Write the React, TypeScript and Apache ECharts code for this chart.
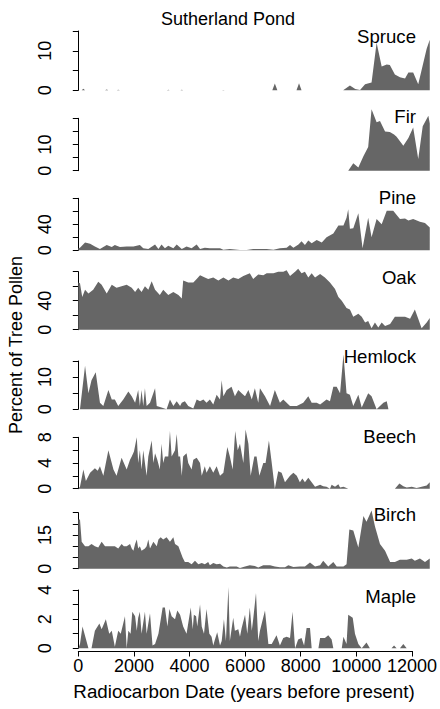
import React, { useEffect, useRef } from 'react';
import * as echarts from 'echarts';

// [radiocarbon years BP, percent of tree pollen]
const spruce: number[][] = [
  [0, 0], [120, 0], [180, 0.4], [240, 0], [950, 0], [1010, 0.2], [1070, 0], [1370, 0], [1420, 0.15], [1480, 0],
  [3150, 0], [3200, 0.15], [3250, 0], [3630, 0], [3680, 0.15], [3730, 0], [5110, 0], [5160, 0.1], [5210, 0],
  [6900, 0], [6990, 1.7], [7080, 0], [7760, 0], [7850, 1.8], [7940, 0], [9420, 0], [9660, 1.2], [9850, 0.3],
  [10020, 0.1], [10200, 1.5], [10430, 2], [10610, 12], [10790, 6], [10970, 6.5], [11080, 6.4], [11260, 4],
  [11440, 3.3], [11620, 3], [11740, 4.5], [11910, 4.5], [12090, 1.5], [12390, 10.5], [12500, 12.8],
];

const fir: number[][] = [
  [0, 0], [9600, 0], [9780, 2.8], [9960, 1.2], [10140, 5.5], [10310, 9], [10430, 23.5], [10610, 18.5],
  [10730, 19], [10910, 15], [11080, 14.8], [11230, 13.8], [11320, 13], [11560, 9.5], [11740, 12.5],
  [11910, 16.5], [12090, 4.5], [12250, 17], [12450, 21], [12500, 18],
];

const pine: number[][] = [
  [0, 3], [60, 4], [240, 12], [420, 10], [590, 6], [770, 2], [1010, 8], [1190, 5], [1300, 8], [1480, 5],
  [1720, 6], [1960, 6], [2190, 8], [2310, 3], [2490, 2], [2730, 9], [2850, 2], [2960, 9], [3080, 3],
  [3200, 7], [3380, 3], [3500, 9], [3680, 2], [3850, 6], [4030, 3], [4210, 9], [4330, 2], [4500, 4],
  [4680, 3], [5040, 3], [5160, 1], [5390, 2], [5750, 0.5], [5990, 0.3], [6220, 2], [6700, 2], [6940, 1],
  [7170, 3], [7410, 4], [7530, 8], [7650, 4], [7830, 9], [7940, 14], [8060, 8], [8180, 15], [8300, 11],
  [8480, 16], [8660, 12], [8830, 20], [9070, 26], [9250, 38], [9430, 38], [9540, 50], [9600, 63],
  [9660, 33], [9780, 34], [9960, 57], [10110, 3], [10310, 50], [10430, 20], [10610, 48], [10790, 40],
  [10970, 61], [11200, 61], [11440, 48], [11620, 49], [11740, 46], [11910, 48], [12150, 44], [12330, 42],
  [12500, 35],
];

const oak: number[][] = [
  [0, 65], [60, 64], [140, 45], [240, 55], [360, 50], [530, 55], [710, 66], [830, 62], [1010, 50],
  [1190, 62], [1360, 58], [1540, 60], [1720, 62], [1900, 58], [2020, 52], [2130, 58], [2250, 52],
  [2370, 60], [2490, 55], [2610, 67], [2730, 55], [2900, 48], [3020, 55], [3200, 48], [3380, 52],
  [3560, 48], [3680, 43], [3730, 68], [3910, 65], [4090, 65], [4210, 70], [4330, 75], [4500, 72],
  [4620, 70], [4800, 72], [4980, 68], [5160, 72], [5340, 68], [5510, 72], [5690, 70], [5870, 74],
  [6100, 78], [6220, 70], [6400, 76], [6580, 75], [6700, 78], [6940, 78], [7110, 80], [7290, 80],
  [7410, 82], [7530, 74], [7710, 80], [7820, 84], [7940, 78], [8060, 80], [8180, 72], [8300, 78],
  [8420, 72], [8600, 77], [8770, 72], [8950, 65], [9130, 56], [9250, 45], [9370, 40], [9540, 30],
  [9660, 28], [9780, 18], [9960, 22], [10080, 18], [10200, 10], [10310, 12], [10430, 2], [10550, 10],
  [10670, 3], [10790, 10], [10910, 5], [11090, 8], [11260, 18], [11440, 18], [11620, 18], [11800, 15],
  [11970, 28], [12090, 15], [12210, 2], [12390, 10], [12500, 16],
];

const hemlock: number[][] = [
  [0, 0], [60, 0], [240, 13.5], [360, 5], [470, 9], [620, 11.5], [770, 2], [890, 1], [1070, 6],
  [1190, 3], [1300, 3], [1420, 1], [1600, 3], [1780, 5.5], [1900, 4], [2020, 2], [2130, 6], [2190, 1],
  [2250, 6], [2310, 1], [2370, 6.5], [2430, 1], [2550, 2], [2730, 6.5], [2790, 1], [2960, 0.5],
  [3140, 0], [3260, 3], [3380, 1], [3500, 2.5], [3620, 1], [3680, 2], [3790, 2.5], [3910, 1],
  [4090, 0.2], [4210, 3], [4330, 2.5], [4450, 3], [4560, 2], [4680, 3], [4800, 1.5], [4920, 4.5],
  [5040, 3], [5100, 9], [5160, 4], [5280, 6], [5450, 7], [5570, 4], [5690, 6], [5810, 5], [5930, 4],
  [6050, 6], [6170, 3], [6280, 6.5], [6400, 2], [6460, 6.5], [6640, 4], [6820, 1], [6990, 6],
  [7170, 2], [7290, 3], [7530, 1], [7770, 1], [8000, 2], [8180, 4], [8300, 2], [8480, 2], [8600, 1.5],
  [8830, 3], [8950, 2.5], [9070, 7], [9190, 7], [9310, 5], [9430, 17], [9540, 5], [9660, 4.5],
  [9780, 1], [9960, 4.5], [10080, 0.5], [10310, 5], [10430, 4], [10610, 0], [10850, 2], [10970, 2.5],
  [11030, 0], [12500, 0],
];

const beech: number[][] = [
  [0, 0], [60, 0.3], [180, 3], [270, 1.2], [420, 2.5], [590, 3.2], [690, 2.8], [770, 3.5], [890, 2],
  [1070, 6], [1250, 3], [1360, 2], [1540, 4.8], [1720, 3], [1840, 4.5], [1900, 5], [1980, 5.8],
  [2080, 8], [2130, 4], [2190, 6], [2250, 3], [2310, 6], [2430, 2], [2490, 5], [2610, 7.5], [2670, 4],
  [2730, 5.5], [2810, 4.5], [2900, 3], [2960, 7], [3020, 4], [3080, 5], [3200, 5], [3260, 9], [3320, 5],
  [3440, 6], [3500, 8.5], [3560, 5], [3620, 5], [3680, 2], [3730, 5], [3850, 5.5], [3910, 4],
  [4030, 3], [4090, 4.5], [4210, 4.8], [4330, 4], [4390, 2], [4500, 3.5], [4560, 2.5], [4680, 3.5],
  [4800, 2.5], [4920, 3.5], [5040, 2], [5160, 2.5], [5300, 6.5], [5390, 5], [5490, 3], [5580, 9],
  [5670, 6], [5750, 7], [5870, 4], [5950, 9.2], [6050, 7], [6130, 2], [6260, 5], [6340, 5], [6440, 2],
  [6580, 4], [6660, 4], [6780, 7.5], [6880, 4], [6990, 0], [7110, 2.7], [7230, 2.5], [7350, 1],
  [7530, 2], [7650, 2.5], [7770, 2], [7880, 1], [7970, 1.6], [8060, 1], [8180, 1.7], [8300, 1],
  [8420, 0.3], [8600, 0.6], [8710, 0.4], [8830, 0.3], [8950, 0], [9010, 0.6], [9130, 0.3], [9250, 0.7],
  [9310, 0.2], [9430, 0.3], [9540, 0.1], [9600, 0], [11260, 0], [11420, 0.8], [11560, 0.4],
  [11680, 0.2], [11860, 0.3], [12030, 0.1], [12390, 0.5], [12500, 1],
];

const birch: number[][] = [
  [0, 22], [60, 22], [120, 12], [240, 10], [360, 10], [470, 11], [590, 10], [710, 9.5], [830, 12],
  [950, 10], [1130, 10], [1300, 10], [1420, 9], [1540, 11], [1620, 10], [1720, 10], [1840, 11],
  [1900, 9], [1960, 8], [2020, 11], [2080, 13], [2130, 9], [2190, 10], [2250, 8], [2370, 9], [2430, 10],
  [2490, 13], [2550, 9], [2670, 12], [2790, 10], [2850, 13], [2930, 14], [3020, 13], [3140, 14],
  [3260, 12], [3380, 14], [3440, 11], [3560, 10], [3710, 5], [3790, 3], [3910, 3], [4030, 2],
  [4150, 3.5], [4270, 2], [4390, 2.5], [4500, 2], [4620, 3], [4680, 1.5], [4800, 2.5], [4920, 2],
  [5040, 2.2], [5160, 1], [5280, 0.5], [5390, 1], [5510, 1], [5630, 1], [5750, 0.3], [5930, 1],
  [6100, 1.5], [6280, 1.2], [6400, 0.5], [6580, 1.5], [6820, 1.5], [6990, 1], [7170, 0.6], [7350, 0.6],
  [7470, 1.5], [7650, 0.8], [7880, 1], [8060, 1], [8240, 2.8], [8420, 1], [8600, 1.5], [8710, 3.5],
  [8890, 1], [9070, 3], [9190, 1], [9430, 1], [9540, 2], [9640, 17.5], [9780, 17], [9960, 9.5],
  [10140, 23.5], [10250, 21], [10430, 26], [10550, 19], [10730, 11], [10910, 8], [11090, 3],
  [11260, 3], [11440, 4], [11680, 4], [11860, 4.5], [11970, 3.5], [12150, 4.5], [12330, 3], [12500, 4.5],
];

const maple: number[][] = [
  [0, 0], [60, 0.3], [150, 1.5], [360, 0], [470, 0], [590, 1.2], [750, 1.7], [830, 1.3], [980, 2],
  [1100, 1], [1190, 1.2], [1300, 0.1], [1420, 1.2], [1510, 1], [1660, 2.2], [1720, 0], [1780, 1.2],
  [1860, 1], [1920, 2.5], [2020, 2.2], [2080, 1.2], [2130, 2.1], [2190, 2.5], [2250, 1], [2370, 2.5],
  [2430, 1], [2550, 2.4], [2640, 0.2], [2730, 0.3], [2850, 1], [3000, 2.8], [3080, 2.8], [3170, 1.5],
  [3240, 2.7], [3320, 2.2], [3440, 2], [3520, 2.6], [3620, 2.3], [3730, 1.5], [3850, 1], [4000, 2.8],
  [4070, 1.3], [4110, 2.3], [4190, 2.2], [4230, 1.5], [4330, 3], [4390, 1.5], [4470, 1], [4560, 2.7],
  [4660, 1], [4740, 0.8], [4800, 0.2], [4860, 0.6], [4940, 1.1], [5040, 0.2], [5100, 0.5], [5180, 2],
  [5250, 0.5], [5340, 4.2], [5390, 0.5], [5510, 2.1], [5570, 1.2], [5690, 1.3], [5750, 0.8], [5810, 1.4],
  [5930, 2.3], [6010, 1], [6100, 2.8], [6170, 1.2], [6220, 2], [6320, 3.8], [6400, 0.5], [6460, 1.2],
  [6640, 2.6], [6760, 0.3], [6880, 0.3], [7050, 0.9], [7170, 0.2], [7290, 0.7], [7410, 0.8], [7530, 0.7],
  [7620, 2.5], [7710, 0], [7820, 0.6], [7940, 0.7], [8030, 0.2], [8120, 1.4], [8240, 1.4], [8300, 0],
  [8540, 0], [8600, 0.7], [8770, 0.7], [8890, 0.9], [9010, 0.6], [9070, 0], [9370, 0], [9430, 0.8],
  [9540, 0.3], [9600, 2.3], [9760, 2.1], [9840, 1], [9960, 0.3], [10080, 0], [10250, 0.4], [10370, 0],
  [11140, 0], [11230, 0.2], [11320, 0], [11440, 0], [11560, 0.3], [11680, 0], [12500, 0],
];

const panelNames = ['Spruce', 'Fir', 'Pine', 'Oak', 'Hemlock', 'Beech', 'Birch', 'Maple'];
const panelSeries = [spruce, fir, pine, oak, hemlock, beech, birch, maple];
const yAxisMax = [15, 20, 80, 80, 15, 8, 25, 4];
const yAxisStep = [5, 5, 20, 20, 5, 2, 5, 1];
const yTickLabels = [[0, 10], [0, 10], [0, 40], [0, 40], [0, 10], [0, 4, 8], [0, 15], [0, 2, 4]];
const xTickLabels = [0, 2000, 4000, 6000, 8000, 10000, 12000];

const chartTitle = 'Sutherland Pond';
const xTitle = 'Radiocarbon Date (years before present)';
const yTitle = 'Percent of Tree Pollen';

// layout (pixels)
const panelTop = [31, 118.3, 198.3, 271.7, 361, 437.3, 512.7, 590];
const panelZero = [90.3, 170.7, 250.3, 329.7, 409.2, 488.7, 568.7, 648.3];
const panelLabelY = [36.5, 116, 197.5, 277, 356, 436, 514, 596];
const PLOT_LEFT = 78.3;
const PX_PER_YEAR = 337.4 / 12000;
const FONT = 'Liberation Sans, Arial, sans-serif';

export default function App() {
  const ref = useRef<HTMLDivElement>(null);

  useEffect(() => {
    if (!ref.current) return;
    const chart = echarts.init(ref.current, undefined, { renderer: 'svg' });

    const grids: any[] = [];
    const xAxes: any[] = [];
    const yAxes: any[] = [];
    const series: any[] = [];
    const graphics: any[] = [];

    panelNames.forEach((name, i) => {
      grids.push({
        left: PLOT_LEFT,
        width: 12500 * PX_PER_YEAR,
        top: panelTop[i],
        height: panelZero[i] - panelTop[i],
        containLabel: false,
      });
      xAxes.push({ type: 'value', gridIndex: i, min: 0, max: 12500, show: false });
      const shown = yTickLabels[i];
      yAxes.push({
        type: 'value',
        gridIndex: i,
        min: 0,
        max: yAxisMax[i],
        interval: yAxisStep[i],
        offset: 14,
        axisLine: { show: true, lineStyle: { color: '#000', width: 1 } },
        axisTick: { show: true, length: 5.5, lineStyle: { color: '#000', width: 1 } },
        splitLine: { show: false },
        axisLabel: {
          rotate: 90,
          margin: 10,
          color: '#000',
          fontSize: 18,
          fontFamily: FONT,
          formatter: (v: number) => (shown.indexOf(v) >= 0 ? String(v) : ''),
        },
      });
      series.push({
        type: 'line',
        name,
        xAxisIndex: i,
        yAxisIndex: i,
        data: panelSeries[i],
        showSymbol: false,
        symbol: 'none',
        clip: false,
        silent: true,
        lineStyle: { width: 0, color: '#666666' },
        areaStyle: { color: '#666666', opacity: 1 },
      });
      graphics.push({
        type: 'text',
        x: 416,
        y: panelLabelY[i],
        style: { text: name, fill: '#000', font: `18.6px ${FONT}`, align: 'right', verticalAlign: 'middle' },
      });
    });

    // bottom date axis (0..12000)
    grids.push({ left: PLOT_LEFT, width: 12000 * PX_PER_YEAR, top: 650, height: 1 });
    xAxes.push({
      type: 'value',
      gridIndex: 8,
      min: 0,
      max: 12000,
      interval: 2000,
      axisLine: { show: true, lineStyle: { color: '#000', width: 1 } },
      axisTick: { show: true, length: 5.5, lineStyle: { color: '#000', width: 1 } },
      splitLine: { show: false },
      axisLabel: {
        margin: 6,
        color: '#000',
        fontSize: 18,
        fontFamily: FONT,
        formatter: (v: number) => (xTickLabels.indexOf(v) >= 0 ? String(v) : ''),
      },
    });
    yAxes.push({ type: 'value', gridIndex: 8, min: 0, max: 1, show: false });

    graphics.push({
      type: 'text',
      x: 228,
      y: 19,
      style: { text: chartTitle, fill: '#000', font: `18px ${FONT}`, align: 'center', verticalAlign: 'middle' },
    });
    graphics.push({
      type: 'text',
      x: 244,
      y: 691,
      style: { text: xTitle, fill: '#000', font: `18.8px ${FONT}`, align: 'center', verticalAlign: 'middle' },
    });
    graphics.push({
      type: 'text',
      x: 16,
      y: 345,
      rotation: Math.PI / 2,
      style: { text: yTitle, fill: '#000', font: `18px ${FONT}`, align: 'center', verticalAlign: 'middle' },
    });

    chart.setOption({
      animation: false,
      backgroundColor: '#ffffff',
      grid: grids,
      xAxis: xAxes,
      yAxis: yAxes,
      series,
      graphic: graphics,
    });

    return () => chart.dispose();
  }, []);

  return (
    <div
      ref={ref}
      style={{ position: 'absolute', left: 0, top: 0, width: 440, height: 709, background: '#fff' }}
    />
  );
}
